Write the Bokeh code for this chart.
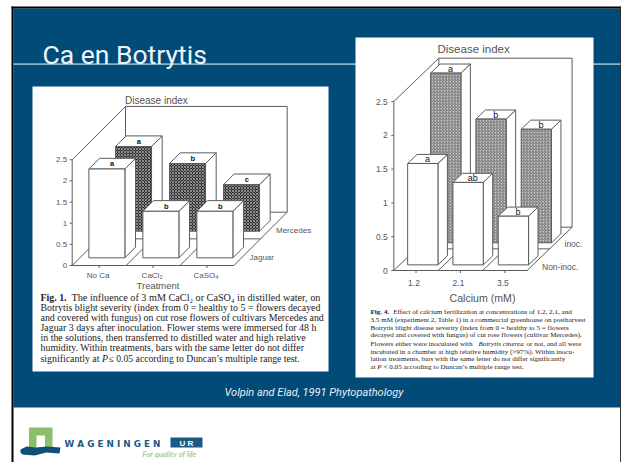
from bokeh.plotting import figure
from bokeh.models import Range1d
from bokeh.embed import file_html
from bokeh.resources import INLINE
from bokeh.core.properties import value

# ---- chart values ----
fig1_categories = ["No Ca", "CaCl\u2082", "CaSO\u2084"]
fig1_series = ["Jaguar", "Mercedes"]
fig1_jaguar = [2.10, 1.10, 1.10]
fig1_mercedes = [2.00, 1.60, 1.10]
fig1_jaguar_letters = ["a", "b", "b"]
fig1_mercedes_letters = ["a", "b", "c"]
fig1_ticks = [0, 0.5, 1, 1.5, 2, 2.5]
fig1_tick_labels = ["0", "0.5", "1", "1.5", "2", "2.5"]

fig2_categories = ["1.2", "2.1", "3.5"]
fig2_series = ["Non-inoc.", "inoc."]
fig2_noninoc = [1.50, 1.22, 0.72]
fig2_inoc = [2.51, 1.83, 1.68]
fig2_noninoc_letters = ["a", "ab", "b"]
fig2_inoc_letters = ["a", "b", "b"]
fig2_ticks = [0, 0.5, 1, 1.5, 2, 2.5]
fig2_tick_labels = ["0", "0.5", "1", "1.5", "2", "2.5"]

BLUE = "#004b78"
RULE = "#8fb3c6"
INK = "#5c5c5c"
TXT = "#555555"

p = figure(width=621, height=462, x_range=Range1d(0, 621), y_range=Range1d(462, 0),
           output_backend="svg", toolbar_location=None, min_border=0,
           margin=(0, 0, 0, 0), outline_line_color=None)
p.axis.visible = False
p.grid.visible = False
p.background_fill_color = "white"


def rect(x0, y0, x1, y1, color):
    p.quad(left=[x0], right=[x1], top=[y0], bottom=[y1], fill_color=color, line_color=None)


def txt(x, y, s, size, color=TXT, font="Liberation Sans", style="normal", align="left"):
    p.text([x], [y], text=[s], text_font=value(font), text_font_size=f"{size}px",
           text_font_style=style, text_color=color, text_align=align, text_baseline="middle")


def poly(xs, ys, **kw):
    p.patch(xs, ys, **kw)


def line(xs, ys, color=INK, width=1.0):
    p.line(xs, ys, line_color=color, line_width=width)


# ---- slide ----
rect(11, 6, 621, 462, "white")
rect(13, 8, 620, 407, BLUE)
rect(11, 6, 13, 462, "#000000")
rect(11, 6, 621, 8, "#000000")
rect(619.6, 6, 621, 462, "#222222")
rect(13, 62.8, 620, 64.6, RULE)
txt(42, 53.5, "Ca en Botrytis", 26.5, color="#eef4f8", font="Roboto")
txt(224, 392, "Volpin and Elad, 1991 Phytopathology", 11, color="#e8f0f5",
    font="Roboto", style="italic")

# logo (artwork, not data)
rect(28.5, 427, 52, 447, "#8cbf6a")
rect(36, 435, 44.5, 447, "white")
poly([20, 26, 36, 46, 60, 59, 46, 34, 22, 20], [449, 446, 447, 446, 447, 453, 452, 455, 454, 452],
     fill_color="#0f4f7a", line_color=None)
txt(64, 443, "W A G E N I N G E N", 8.8, color="#1b5a86", style="bold", font="DejaVu Sans")
rect(170, 437, 202, 447, "#1b5a86")
txt(186, 442.5, "U R", 8, color="white", style="bold", align="center")
txt(142, 453.5, "For quality of life", 7.8, color="#8cbf6a", style="italic", font="Lato")

# ---- the two figure cards ----
rect(32, 86, 328, 371, "white")
rect(355, 37, 593, 377, "white")


def chart3d(cfg, categories, series, front_vals, back_vals, front_letters, back_letters, ticks, tick_labels, hatch):
    ox, oy, unit = cfg["ox"], cfg["oy"], cfg["unit"]
    W, Dx, Dy = cfg["floor_w"], cfg["dx"], cfg["dy"]
    top = oy - unit * ticks[-1]

    def X(cat_pos, depth):
        return ox + cat_pos + depth * Dx

    def Y(v, depth):
        return oy - unit * v - depth * Dy

    # walls and floor
    poly([ox, ox + Dx, ox + Dx + W, ox + Dx + W, ox + W, ox],
         [oy, top - Dy, top - Dy, oy - Dy, oy, oy], fill_color="white", line_color=None)
    line([ox, ox + Dx, ox + Dx + W, ox + Dx + W, ox + W, ox, ox],
         [top, top - Dy, top - Dy, oy - Dy, oy, oy, top])
    line([ox + Dx, ox + Dx], [top - Dy, oy - Dy])
    line([ox, ox + Dx, ox + Dx + W], [oy, oy - Dy, oy - Dy])
    line([ox + Dx / 2, ox + Dx / 2 + W], [oy - Dy / 2, oy - Dy / 2])
    n = len(categories)
    for i in range(1, n):
        xx = ox + W * i / n
        line([xx, xx + Dx], [oy, oy - Dy])

    # ticks
    for t, lab in zip(ticks, tick_labels):
        y = oy - unit * t
        line([ox - 2.5, ox], [y, y])
        txt(ox - cfg["tick_gap"], y, lab, cfg["tick_size"], align="right")

    for i, c in enumerate(categories):
        xx = ox + W * (i + 0.5) / n
        line([xx, xx], [oy, oy + 2.5])
        txt(xx + cfg["cat_shift"], oy + cfg["cat_gap"], c, cfg["tick_size"], align="center")

    # bars: back row, then front row
    bw, bd = cfg["bar_w"], cfg["bar_d"]
    rows = [(cfg["back_d"], back_vals, back_letters, True), (cfg["front_d"], front_vals, front_letters, False)]
    for d0, vals, letters, hatched in rows:
        for i, (v, let) in enumerate(zip(vals, letters)):
            x0 = X(cfg["cat_w"] * i + cfg["bar_off"], d0)
            x1 = x0 + bw
            yb = Y(0, d0)
            yt = Y(v, d0)
            ddx, ddy = bd * Dx, bd * Dy
            # side
            poly([x1, x1 + ddx, x1 + ddx, x1], [yt, yt - ddy, yb - ddy, yb],
                 fill_color="white", line_color=INK, line_width=1)
            # top
            poly([x0, x1, x1 + ddx, x0 + ddx], [yt, yt, yt - ddy, yt - ddy],
                 fill_color="white", line_color=INK, line_width=1)
            # front
            if hatched:
                poly([x0, x1, x1, x0], [yt, yt, yb, yb], line_color=INK, line_width=1, **hatch)
            else:
                poly([x0, x1, x1, x0], [yt, yt, yb, yb], fill_color="white", line_color=INK, line_width=1)
            txt((x0 + x1) / 2 + ddx / 2, yt - ddy / 2 + 0.3, let, cfg["let_size"], color="#111111",
                style=cfg["let_style"], align="center")


fig1_cfg = dict(ox=71.7, oy=265, unit=42.3, floor_w=161.7, dx=53.3, dy=53.3, tick_gap=5, tick_size=8,
                cat_gap=10, cat_shift=-1, bar_w=36, bar_d=0.2, cat_w=54, bar_off=9,
                front_d=0.144, back_d=0.644, let_size=7.5, let_style="bold")
fig2_cfg = dict(ox=393.3, oy=270, unit=67.6, floor_w=133.3, dx=45, dy=43.3, tick_gap=6, tick_size=8.5,
                cat_gap=12, cat_shift=-2, bar_w=30.3, bar_d=0.21, cat_w=45.3, bar_off=8,
                front_d=0.13, back_d=0.64, let_size=9, let_style="normal")

chart3d(fig1_cfg, fig1_categories, fig1_series, fig1_jaguar, fig1_mercedes, fig1_jaguar_letters,
        fig1_mercedes_letters, fig1_ticks, fig1_tick_labels,
        dict(fill_color="#303030", hatch_pattern="diagonal_cross", hatch_color="#8c8c8c", hatch_scale=3, hatch_weight=1))
chart3d(fig2_cfg, fig2_categories, fig2_series, fig2_noninoc, fig2_inoc, fig2_noninoc_letters,
        fig2_inoc_letters, fig2_ticks, fig2_tick_labels,
        dict(fill_color="#c6c6c6", hatch_pattern="right_diagonal_line", hatch_color="#666666", hatch_scale=3, hatch_weight=0.9))

# texts around the charts
txt(124.5, 99.5, "Disease index", 10)
txt(157.5, 285, "Treatment", 9.5, align="center")
txt(275.5, 230, "Mercedes", 8)
txt(249, 257, "Jaguar", 8)
txt(437, 48.5, "Disease index", 11.5)
txt(482, 297.5, "Calcium (mM)", 10.6, align="center")
txt(564, 243, "inoc.", 8.5)
txt(541.5, 266, "Non-inoc.", 8.5)

# captions
SERIF = "Liberation Serif"
cap1 = ["The influence of 3 mM CaCl\u2082 or CaSO\u2084 in distilled water, on",
        "Botrytis blight severity (index from 0 = healthy to 5 = flowers decayed",
        "and covered with fungus) on cut rose flowers of cultivars Mercedes and",
        "Jaguar 3 days after inoculation. Flower stems were immersed for 48 h",
        "in the solutions, then transferred to distilled water and high relative",
        "humidity. Within treatments, bars with the same letter do not differ",
        "significantly at"]
fs1 = 9.9
txt(40, 296.7, "Fig. 1.", fs1, color="#222222", font=SERIF, style="bold")
txt(71, 296.7, cap1[0], 10.2, color="#222222", font=SERIF)
for k, s in enumerate(cap1[1:6]):
    txt(40, 307 + 10.1 * k, s, fs1, color="#222222", font=SERIF)
txt(40, 357.5, cap1[6], fs1, color="#222222", font=SERIF)
txt(101.5, 357.5, "P", fs1, color="#222222", font=SERIF, style="italic")
txt(108, 357.5, "\u2264 0.05 according to Duncan\u2019s multiple range test.", 9.7, color="#222222", font=SERIF)

cap2 = ["Effect of calcium fertilization at concentrations of 1.2, 2.1, and",
        "3.5 mM (experiment 2, Table 1) in a commercial greenhouse on postharvest",
        "Botrytis blight disease severity (index from 0 = healthy to 5 = flowers",
        "decayed and covered with fungus) of cut rose flowers (cultivar Mercedes).",
        "Flowers either were inoculated with",
        "or not, and all were",
        "incubated in a chamber at high relative humidity (>97%). Within inocu-",
        "lation treatments, bars with the same letter do not differ significantly",
        "at"]
fs2 = 7.1
y2 = [311.7, 319.3, 327.3, 334.3, 343.3, 351.7, 358.3, 366]
xl = 370
txt(xl, y2[0], "Fig. 4.", fs2, color="#222222", font=SERIF, style="bold")
txt(392.7, y2[0], cap2[0], fs2, color="#222222", font=SERIF)
for yy, s in zip(y2[1:4], cap2[1:4]):
    txt(xl, yy, s, fs2, color="#222222", font=SERIF)
txt(xl, y2[4], cap2[4], fs2, color="#222222", font=SERIF)
txt(478, y2[4], "Botrytis cinerea", fs2, color="#222222", font=SERIF, style="italic")
txt(526, y2[4], cap2[5], fs2, color="#222222", font=SERIF)
txt(xl, y2[5], cap2[6], fs2, color="#222222", font=SERIF)
txt(xl, y2[6], cap2[7], fs2, color="#222222", font=SERIF)
txt(xl, y2[7], cap2[8], fs2, color="#222222", font=SERIF)
txt(376.7, y2[7], "P", fs2, color="#222222", font=SERIF, style="italic")
txt(383, y2[7], "< 0.05 according to Duncan\u2019s multiple range test.", fs2, color="#222222", font=SERIF)

open("out.html", "w").write(file_html(p, INLINE))
